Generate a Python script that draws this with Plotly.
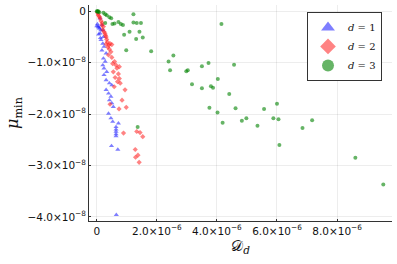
import numpy as np
import plotly.graph_objects as go

# values in units: D in 1e-6, mu in 1e-8
d1_D = [0.00, 0.02, 0.05, 0.07, 0.09, 0.13, 0.06, 0.12, 0.11, 0.17, 0.20, 0.11, 0.22, 0.14, 0.20, 0.24, 0.17,
        0.31, 0.22, 0.28, 0.20, 0.24, 0.33, 0.24, 0.31, 0.42, 0.50, 0.31, 0.39, 0.47, 0.42, 0.50, 0.55,
        0.39, 0.47, 0.53, 0.64, 0.72, 0.64, 0.64, 0.64, 0.64, 0.49, 0.70, 0.65]
d1_mu = [-0.29, -0.25, -0.30, -0.32, -0.34, -0.37, -0.45, -0.52, -0.14, -0.27, -0.37, -0.43, -0.50, -0.56, -0.63, -0.69, -0.76,
         -0.82, -0.92, -0.98, -1.05, -1.11, -1.18, -1.24, -1.34, -1.40, -1.44, -1.53, -1.60, -1.66, -1.73, -1.79, -1.86,
         -1.99, -2.08, -2.15, -2.25, -2.18, -2.30, -2.34, -2.39, -2.43, -2.62, -2.69, -3.96]

d2_D = [0.02, 0.04, 0.05, 0.09, 0.11, 0.14, 0.18, 0.17, 0.22, 0.20, 0.24, 0.27, 0.29, 0.31, 0.33, 0.35, 0.31,
        0.40, 0.44, 0.50, 0.37, 0.42, 0.47, 0.39, 0.50, 0.59, 0.53, 0.64, 0.75, 0.67, 0.55, 0.72, 0.61,
        0.75, 0.69, 0.78, 0.58, 0.94, 0.84, 0.98, 0.74, 0.44, 0.89, 1.33, 1.44, 1.53, 1.28, 1.37, 1.29, 1.41]
d2_mu = [-0.02, -0.05, -0.08, -0.11, -0.14, -0.19, -0.23, -0.27, -0.30, -0.36, -0.40, -0.43, -0.47, -0.50, -0.55, -0.60, -0.64,
         -0.66, -0.63, -0.65, -0.70, -0.74, -0.79, -0.85, -0.90, -0.98, -1.02, -1.05, -1.08, -1.11, -1.18, -1.22, -1.29,
         -1.31, -1.37, -1.40, -1.47, -1.53, -1.73, -1.87, -1.90, -1.81, -2.37, -2.34, -2.36, -2.44, -2.69, -2.80, -2.84, -2.94]

d3_D = [0.00, 0.02, 0.05, 0.03, 0.08, 0.22, 0.28, 0.33, 0.42, 0.48, 1.22, 0.28, 0.52, 0.59, 0.72, 0.80, 0.87,
        1.22, 1.33, 1.47, 1.09, 0.91, 1.42, 1.53, 1.31, 0.98, 1.81, 2.55, 2.39, 2.44, 2.98, 3.03, 3.17,
        1.36, 4.15, 3.50, 3.72, 4.57, 8.24, 4.03, 3.50, 3.80, 3.87, 4.41, 3.75, 4.02, 4.62, 5.57, 6.00,
        4.19, 4.83, 4.98, 5.35, 5.88, 6.05, 6.85, 7.17, 6.08, 8.61, 9.54]
d3_mu = [0.00, 0.00, 0.00, -0.01, -0.02, -0.03, -0.06, -0.08, -0.12, -0.14, -0.06, -0.23, -0.25, -0.24, -0.21, -0.25, -0.27,
         -0.22, -0.23, -0.23, -0.40, -0.46, -0.40, -0.51, -0.54, -0.76, -0.78, -0.86, -0.98, -1.15, -1.17, -1.15, -1.42,
         -2.25, -0.25, -1.07, -1.01, -1.04, -1.12, -1.32, -1.50, -1.46, -1.49, -1.61, -1.88, -1.97, -1.89, -1.90, -1.80,
         -2.17, -2.13, -2.08, -2.23, -2.08, -2.10, -2.27, -2.12, -2.60, -2.85, -3.37]

x_tickvals = [0, 2, 4, 6, 8]
x_ticktext = ["0", "2.0×10<sup>−6</sup>", "4.0×10<sup>−6</sup>", "6.0×10<sup>−6</sup>", "8.0×10<sup>−6</sup>"]
y_tickvals = [0, -1, -2, -3, -4]
y_ticktext = ["0", "−1.0×10<sup>−8</sup>", "−2.0×10<sup>−8</sup>", "−3.0×10<sup>−8</sup>", "−4.0×10<sup>−8</sup>"]

XS, YS = 1e-6, 1e-8

fig = go.Figure()
series = [
    (d1_D, d1_mu, "triangle-up", "rgba(20,20,255,0.55)", "<i>d</i> = 1", 4.5),
    (d2_D, d2_mu, "diamond", "rgba(255,30,30,0.55)", "<i>d</i> = 2", 4),
    (d3_D, d3_mu, "circle", "rgba(0,130,0,0.6)", "<i>d</i> = 3", 4),
]
for xs, ys, sym, col, name, sz in series:
    fig.add_trace(go.Scatter(
        x=np.array(xs) * XS, y=np.array(ys) * YS, mode="markers", name=name,
        marker=dict(symbol=sym, color=col, size=sz, line=dict(width=0)),
    ))

axis_common = dict(showline=True, linecolor="#333", linewidth=1, mirror=False,
                   showgrid=True, gridcolor="rgba(0,0,0,0.07)", gridwidth=1,
                   zeroline=False, ticks="inside", ticklen=2, tickcolor="#333",
                   automargin=False,
                   tickfont=dict(family="DejaVu Sans", size=10.5, color="#111"))

fig.update_xaxes(range=[-0.26e-6, 9.83e-6], tickvals=[v * XS for v in x_tickvals], ticktext=x_ticktext,
                 title=dict(text="𝒟<sub><i>d</i></sub>", font=dict(family="DejaVu Serif", size=15, color="#111"), standoff=4),
                 **axis_common)
fig.update_yaxes(range=[-4.08e-8, 0.12e-8], tickvals=[v * YS for v in y_tickvals], ticktext=y_ticktext,
                 title=dict(text="<i>μ</i><sub>min</sub>", font=dict(family="DejaVu Serif", size=16, color="#111"), standoff=4),
                 **axis_common)

fig.update_layout(
    width=397, height=264,
    margin=dict(l=89, r=5, t=5, b=43),
    plot_bgcolor="white", paper_bgcolor="white",
    legend=dict(x=0.967, y=0.968, xanchor="right", yanchor="top",
                bordercolor="#333", borderwidth=1, bgcolor="white",
                font=dict(family="DejaVu Serif", size=10, color="#111"),
                itemsizing="constant", itemwidth=30, tracegroupgap=0),
)
fig.write_html("out.html", config={"displayModeBar": False},
               post_script="document.body.style.margin='0';")
